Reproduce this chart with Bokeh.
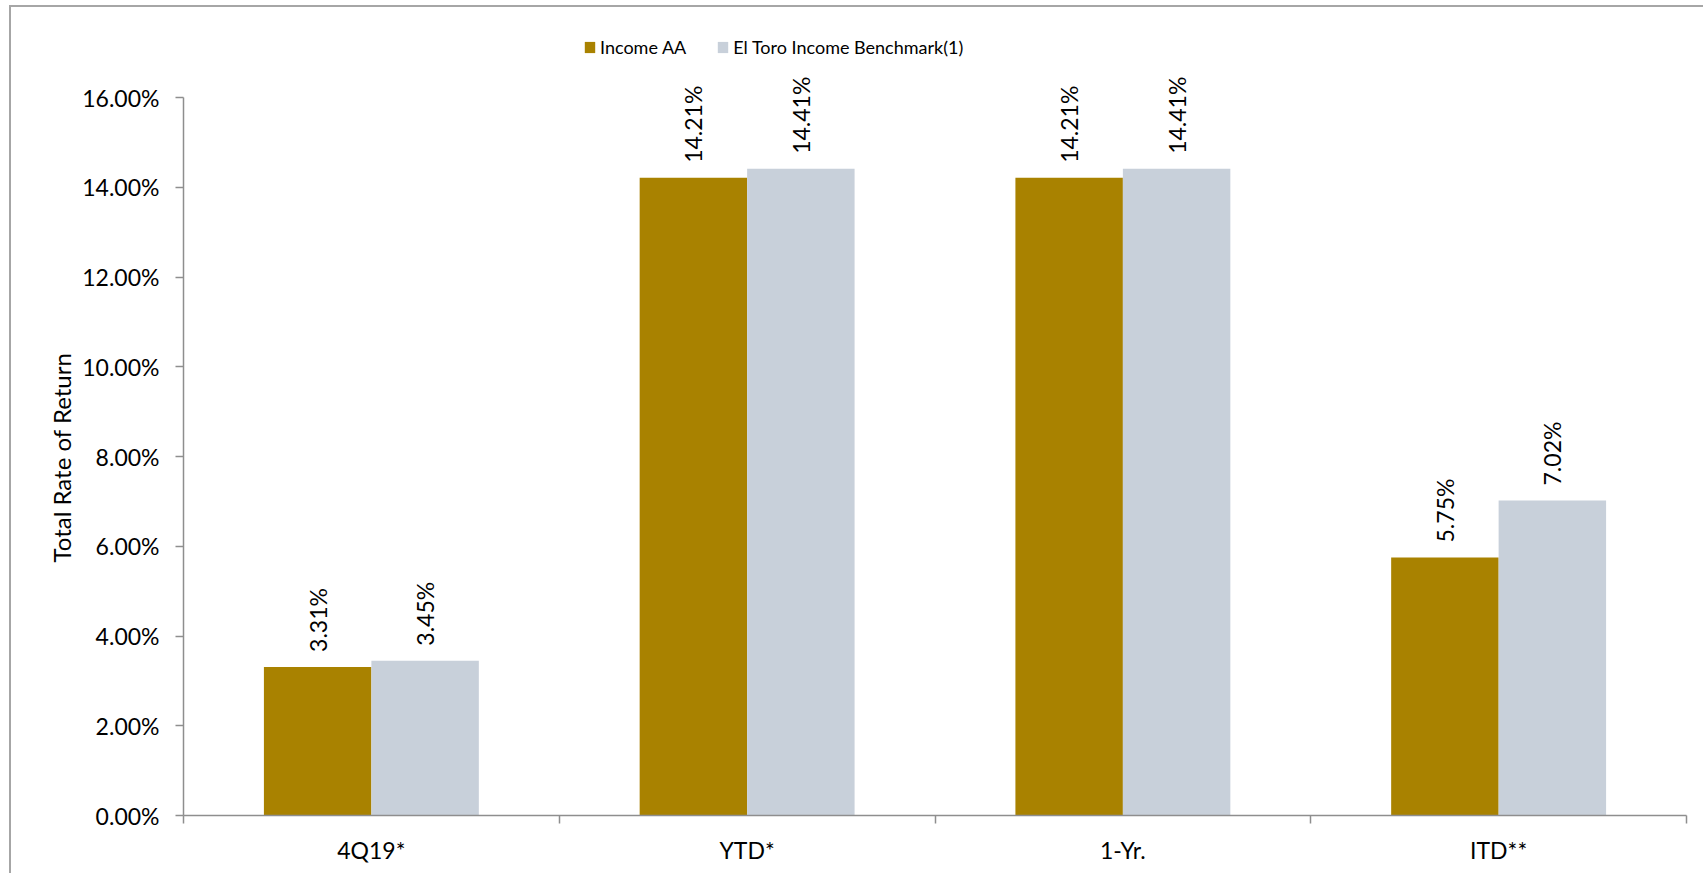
import math
from bokeh.plotting import figure
from bokeh.models import (ColumnDataSource, FixedTicker, PrintfTickFormatter,
                          Legend, LegendItem, Range1d, Title)
from bokeh.transform import dodge
from bokeh.core.properties import value
from bokeh.embed import file_html
from bokeh.resources import INLINE

categories = ["4Q19*", "YTD*", "1-Yr.", "ITD**"]
income_aa = [3.31, 14.21, 14.21, 5.75]
benchmark = [3.45, 14.41, 14.41, 7.02]
series_names = ["Income AA", "El Toro Income Benchmark(1)"]
y_ticks = [0, 2, 4, 6, 8, 10, 12, 14, 16]
y_title = "Total Rate of Return"

FONT = "Lato"
FS = "23px"
GOLD = "#A98200"
GREY = "#C8D0DA"
AXIS = "#8E8E8E"

xs = [i + 0.5 for i in range(len(categories))]
src = ColumnDataSource(dict(
    x=xs, cat=categories, a=income_aa, b=benchmark,
    a_lbl=[f"{v:.2f}%" for v in income_aa],
    b_lbl=[f"{v:.2f}%" for v in benchmark],
))

# frame spans 790 px; the 0-16 axis occupies the lower 718 px of it
y_top = y_ticks[-1] * 790 / 718

p = figure(width=1694, height=868, output_backend="svg", toolbar_location=None,
           x_range=Range1d(0, len(categories)), y_range=Range1d(0, y_top),
           min_border_left=172, min_border_right=19, min_border_top=18,
           min_border_bottom=60)
p.styles = {"border-top": "2px solid #A6A6A6", "border-left": "2px solid #A6A6A6",
            "margin-left": "9px", "margin-top": "5px"}
p.outline_line_color = None
p.xgrid.grid_line_color = None
p.ygrid.grid_line_color = None
p.background_fill_color = "white"
p.border_fill_color = "white"

W = 0.286
r1 = p.vbar(x=dodge("x", -W / 2, range=p.x_range), top="a", width=W, source=src,
            fill_color=GOLD, line_color=None)
r2 = p.vbar(x=dodge("x", W / 2, range=p.x_range), top="b", width=W, source=src,
            fill_color=GREY, line_color=None)

for col, off in (("a_lbl", -W / 2), ("b_lbl", W / 2)):
    p.text(x=dodge("x", off, range=p.x_range), y=col[0], text=col, source=src,
           angle=math.pi / 2, text_align="left", text_baseline="middle",
           y_offset=-15, text_font=value(FONT), text_font_size=FS,
           text_color="black")

# y axis
ya = p.yaxis[0]
ya.bounds = (y_ticks[0], y_ticks[-1])
ya.ticker = FixedTicker(ticks=y_ticks)
ya.formatter = PrintfTickFormatter(format="%.2f%%")
ya.major_label_text_font = FONT
ya.major_label_text_font_size = FS
ya.major_label_text_color = "black"
ya.major_label_standoff = 16
ya.major_tick_out = 8
ya.major_tick_in = 0
ya.minor_tick_out = 0
ya.minor_tick_in = 0
ya.axis_line_color = AXIS
ya.major_tick_line_color = AXIS
ya.axis_line_width = 1.5
ya.major_tick_line_width = 1.5

# y-axis title, centred on the 0-16 span rather than on the whole frame
p.add_layout(Title(text=y_title, align="left", offset=253, standoff=8,
                   text_font=FONT, text_font_size="24px",
                   text_font_style="normal", text_color="black"), "left")

# x axis: labels at centres, ticks at boundaries
xa = p.xaxis[0]
xa.ticker = FixedTicker(ticks=xs, minor_ticks=list(range(len(categories) + 1)))
xa.major_label_overrides = {x: c for x, c in zip(xs, categories)}
xa.major_label_text_font = FONT
xa.major_label_text_font_size = FS
xa.major_label_text_color = "black"
xa.major_tick_out = 0
xa.major_tick_in = 0
xa.minor_tick_out = 8
xa.minor_tick_in = 0
xa.major_label_standoff = 12
xa.axis_line_color = AXIS
xa.minor_tick_line_color = AXIS
xa.axis_line_width = 1.5
xa.minor_tick_line_width = 1.5

legend = Legend(items=[LegendItem(label=series_names[0], renderers=[r1]),
                       LegendItem(label=series_names[1], renderers=[r2])],
                orientation="horizontal", location=(400, 757),
                label_text_font=FONT, label_text_font_size="18px",
                label_text_color="black",
                glyph_width=13, glyph_height=14, label_standoff=4, spacing=30,
                padding=0, margin=0, border_line_color=None,
                background_fill_alpha=0)
p.add_layout(legend, "center")

open("out.html", "w").write(file_html(p, INLINE))
